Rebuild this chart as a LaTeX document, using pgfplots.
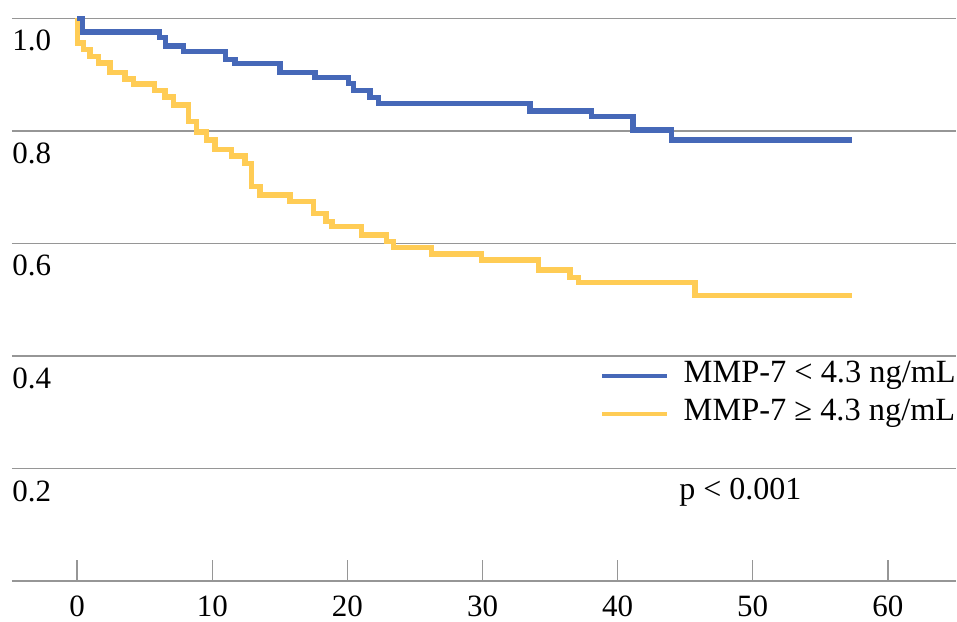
\documentclass[border=0pt]{standalone}
\usepackage{fontspec}
\setmainfont{Liberation Serif}
\usepackage{pgfplots}
\pgfplotsset{compat=1.18}
\definecolor{kmblue}{RGB}{70,104,184}
\definecolor{kmyellow}{RGB}{255,204,85}
\definecolor{gridgray}{RGB}{150,150,150}

\begin{document}
\begin{tikzpicture}
\useasboundingbox (-6pt,-20pt) rectangle (472.5pt,290.5pt);
\begin{axis}[
    at={(0,0)}, anchor=south west,
    scale only axis, width=472pt, height=281.35pt,
    xmin=-4.83, xmax=65.05, ymin=0, ymax=1,
    clip=false,
    axis line style={draw=none},
    ymajorgrids,
    grid style={gridgray, line width=0.75pt},
    xtick={0,10,20,30,40,50,60},
    xticklabels={0,10,20,30,40,50,60},
    ytick={0,0.2,0.4,0.6,0.8,1},
    yticklabels={{},0.2,0.4,0.6,0.8,1.0},
    xtick pos=bottom,
    tick align=inside,
    major tick length=10.5pt,
    xtick style={draw=gridgray, line width=0.75pt},
    ytick style={draw=none},
    every tick label/.append style={font=\fontsize{15.5}{18}\selectfont},
    /pgf/number format/assume math mode=true,
    yticklabel style={anchor=north west, inner sep=0pt, yshift=-5.8pt},
    xticklabel style={anchor=north, inner sep=0pt, yshift=-7pt},
    legend style={at={(axis cs:38.69,0.3306)}, anchor=west, draw=none, fill=none,
        inner sep=0pt, outer sep=0pt, row sep=4pt,
        nodes={inner sep=0pt, text height=11pt, text depth=4pt,
               font=\fontsize{16.2}{18}\selectfont},
        /tikz/every odd column/.append style={column sep=7pt}},
    legend image code/.code={\draw[#1, line width=2.4pt] (0pt,0pt) -- (32.5pt,0pt);},
    legend cell align=left,
    reverse legend,
]
% MMP-7 >= 4.3 ng/mL
\addplot[kmyellow, line width=2.7pt, const plot] coordinates {
    (0,1.0) (0,0.9561) (0.444,0.9446) (0.940,0.9321) (1.554,0.9206)
    (2.420,0.9037) (3.531,0.8921) (4.145,0.8832) (5.699,0.8717)
    (6.492,0.8601) (7.106,0.8459) (8.216,0.8166) (8.838,0.7979)
    (9.578,0.7837) (10.192,0.7672) (11.429,0.7553) (12.413,0.7423)
    (12.909,0.7007) (13.523,0.6860) (15.744,0.6741) (17.469,0.6535)
    (18.409,0.6385) (18.853,0.6296) (21.051,0.6149) (22.902,0.6030)
    (23.390,0.5930) (26.232,0.5811) (29.933,0.5705) (34.123,0.5527)
    (36.469,0.5397) (37.084,0.5305) (45.722,0.5070) (57.32,0.5070)
};
\addlegendentry{MMP-7 ≥ 4.3 ng/mL}
% MMP-7 < 4.3 ng/mL
\addplot[kmblue, line width=2.7pt, const plot] coordinates {
    (0,1.0) (0.385,0.9757) (6.07,0.9662) (6.54,0.9508) (7.85,0.9414)
    (10.98,0.9271) (11.67,0.9200) (15.0,0.9040) (17.6,0.8951)
    (20.06,0.8845) (20.43,0.8714) (21.67,0.8596) (22.28,0.8490)
    (33.51,0.8353) (38.08,0.8252) (41.15,0.8015) (44.0,0.7837)
    (57.32,0.7837)
};
\addlegendentry{MMP-7 < 4.3 ng/mL}
\node[anchor=west, inner sep=0pt, font=\fontsize{16}{18}\selectfont]
    at (axis cs:44.54,0.1572) {p < 0.001};
\end{axis}
\end{tikzpicture}
\end{document}
